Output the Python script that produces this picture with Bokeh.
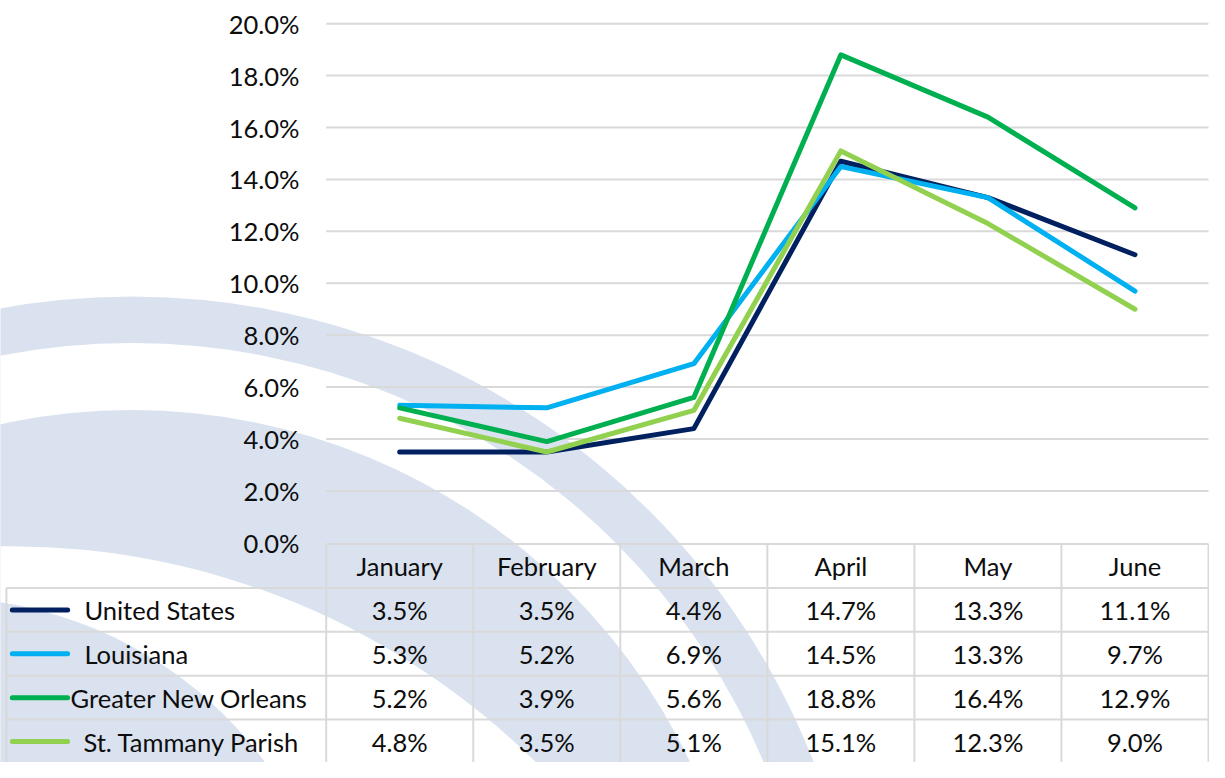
from bokeh.plotting import figure
from bokeh.models import Range1d, LinearAxis, FixedTicker, PrintfTickFormatter
from bokeh.embed import file_html
from bokeh.resources import INLINE
from bokeh.core.properties import value

# ---------------- data ----------------
months = ["January", "February", "March", "April", "May", "June"]
series_names = ["United States", "Louisiana", "Greater New Orleans", "St. Tammany Parish"]
united_states = [3.5, 3.5, 4.4, 14.7, 13.3, 11.1]
louisiana = [5.3, 5.2, 6.9, 14.5, 13.3, 9.7]
greater_new_orleans = [5.2, 3.9, 5.6, 18.8, 16.4, 12.9]
st_tammany = [4.8, 3.5, 5.1, 15.1, 12.3, 9.0]
y_ticks = [0, 2, 4, 6, 8, 10, 12, 14, 16, 18, 20]

series_values = [united_states, louisiana, greater_new_orleans, st_tammany]
colors = ["#002060", "#00B0F0", "#00B050", "#92D050"]

# ---------------- layout (reference-picture pixels, 1225 x 778) ----------------
W, H = 1209, 762             # figure size (fits the page with its 8px margin)
REF_W, REF_H = 1225, 778     # coordinate space of the layout constants below
TABLE_LEFT = 330             # left edge of month columns
COL_W = 149.0                # month column width
ZERO_Y = 553.7               # y of 0 %
PX_PER_PCT = 26.5
TABLE_TOP = 555.0
ROW_H = 44.8
FS = "25.5px"


def col_x(px):
    return (px - TABLE_LEFT) / COL_W


p = figure(width=W, height=H,
           x_range=Range1d(col_x(0), col_x(REF_W)),
           y_range=Range1d((ZERO_Y - REF_H) / PX_PER_PCT, ZERO_Y / PX_PER_PCT),
           output_backend="svg", toolbar_location=None,
           x_axis_location=None, y_axis_location=None, min_border=0,
           outline_line_color=None, background_fill_color="white", border_fill_color="white")
p.grid.visible = False

p.extra_x_ranges = {"px": Range1d(0, REF_W)}
p.extra_y_ranges = {"py": Range1d(REF_H, 0),
                    "tbl": Range1d((REF_H - TABLE_TOP) / ROW_H, (0 - TABLE_TOP) / ROW_H)}

# ---------------- watermark arcs (painted outer to inner) ----------------
WM = "#DAE2EF"
wm_discs = [  # (cx, cy, r, colour)
    (133, 1050, 742, WM),
    (133, 1050, 695, "white"),
    (133, 1050, 627, WM),
    (10, 1320, 757, "white"),
    (-61, 1021, 408, WM),
]
for cx, cy, r, c in wm_discs:
    p.circle(x=[cx], y=[cy], radius=r, fill_color=c, line_color=None,
             x_range_name="px", y_range_name="py")

# ---------------- gridlines ----------------
grid_ys = [t for t in y_ticks if t > 0]
p.segment(x0=[0] * len(grid_ys), x1=[len(months)] * len(grid_ys), y0=grid_ys, y1=grid_ys,
          line_color="#D9D9D9", line_width=2)

# ---------------- y axis ----------------
yaxis = LinearAxis(ticker=FixedTicker(ticks=y_ticks), formatter=PrintfTickFormatter(format="%.1f%%"),
                   fixed_location=col_x(303), axis_line_color=None,
                   major_tick_line_color=None, minor_tick_line_color=None,
                   major_tick_in=0, major_tick_out=0, minor_tick_in=0, minor_tick_out=0,
                   major_label_standoff=0,
                   major_label_text_font="Lato", major_label_text_font_size=FS,
                   major_label_text_color="#0D0D0D")
p.add_layout(yaxis, "left")

# ---------------- table ----------------
n_cols = len(months)
n_rows = len(series_names)
legend_left = col_x(6)
BORDER = "#D9D9D9"
hx0 = [0] + [legend_left] * (n_rows + 1)
hx1 = [n_cols] * (n_rows + 2)
hy = list(range(0, n_rows + 2))
p.segment(x0=hx0, x1=hx1, y0=hy, y1=hy, line_color=BORDER, line_width=2, y_range_name="tbl")
vx = [legend_left] + list(range(0, n_cols + 1))
vy0 = [1] + [0] * (n_cols + 1)
vy1 = [n_rows + 1] * (n_cols + 2)
p.segment(x0=vx, x1=vx, y0=vy0, y1=vy1, line_color=BORDER, line_width=2, y_range_name="tbl")

FONT = value("Lato")
TXT = "#0D0D0D"
p.text(x=[i + 0.5 for i in range(n_cols)], y=[0.5] * n_cols, text=months,
       text_align="center", text_baseline="middle", text_font=FONT, text_font_size=FS,
       text_color=TXT, y_range_name="tbl")
vx_all, vy_all, vt_all = [], [], []
for r, vals in enumerate(series_values):
    for c, v in enumerate(vals):
        vx_all.append(c + 0.5)
        vy_all.append(r + 1.5)
        vt_all.append(f"{v:.1f}%")
p.text(x=vx_all, y=vy_all, text=vt_all, text_align="center", text_baseline="middle",
       text_font=FONT, text_font_size=FS, text_color=TXT, y_range_name="tbl")

rows_y = [r + 1.5 for r in range(n_rows)]
p.segment(x0=[col_x(12)] * n_rows, x1=[col_x(68)] * n_rows, y0=rows_y, y1=rows_y,
          line_color=colors, line_width=5, line_cap="round", y_range_name="tbl")
label_px = [85, 85, 71, 84]
p.text(x=[col_x(v) for v in label_px], y=rows_y, text=series_names, text_align="left",
       text_baseline="middle", text_font=FONT, text_font_size=FS, text_color=TXT,
       y_range_name="tbl")

# ---------------- lines ----------------
xs = [i + 0.5 for i in range(n_cols)]
for name, vals, col in zip(series_names, series_values, colors):
    p.line(x=xs, y=vals, line_color=col, line_width=5, line_cap="round", line_join="round")

open("out.html", "w").write(file_html(p, INLINE))
